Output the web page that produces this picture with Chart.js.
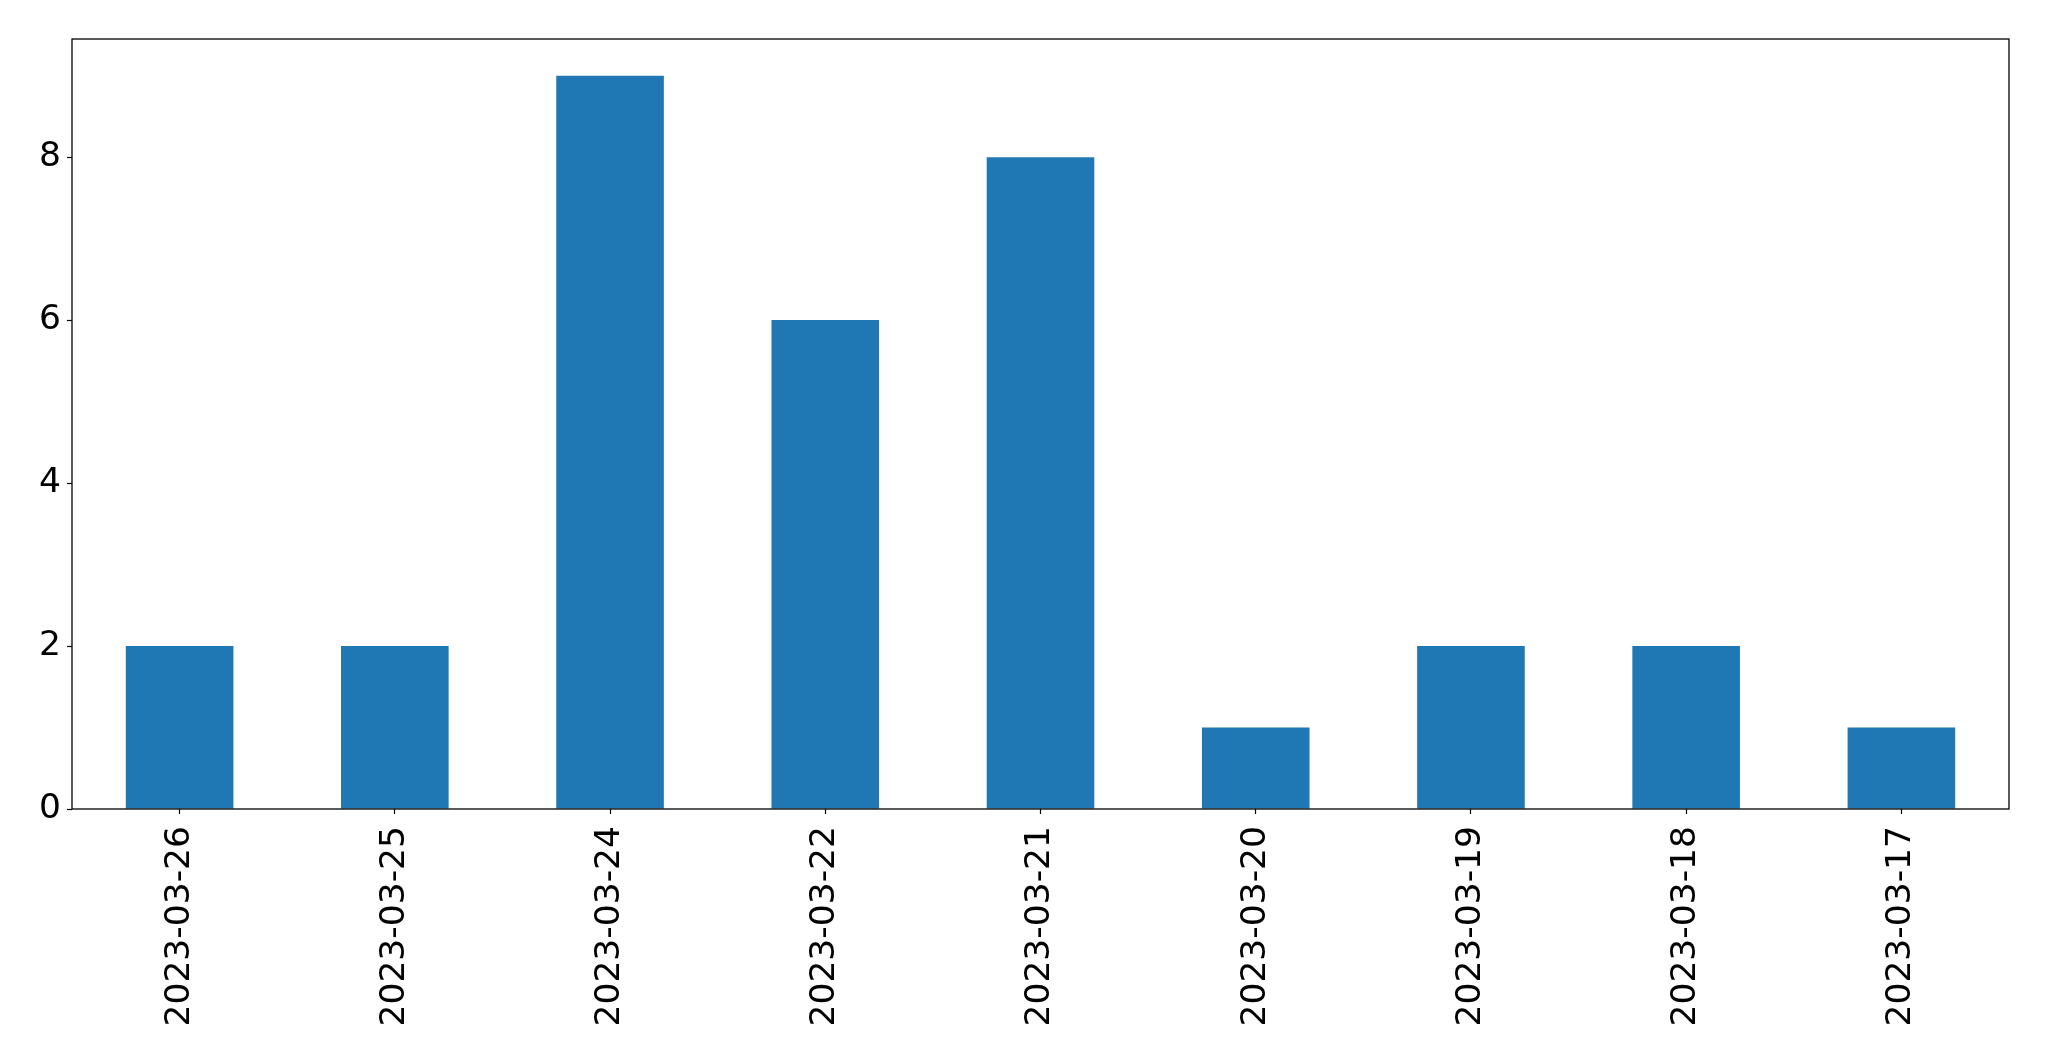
<!DOCTYPE html>
<html>
<head>
<meta charset="utf-8">
<script src="https://cdn.jsdelivr.net/npm/chart.js@4/dist/chart.umd.min.js"></script>
<style>
  html, body { margin: 0; padding: 0; background: #fff; }
</style>
</head>
<body>
<canvas id="myChart" width="2049" height="1061"></canvas>
<script>
const dates = ["2023-03-26", "2023-03-25", "2023-03-24", "2023-03-22", "2023-03-21",
  "2023-03-20", "2023-03-19", "2023-03-18", "2023-03-17"];
const counts = [2, 2, 9, 6, 8, 1, 2, 2, 1];
const yTicks = [0, 2, 4, 6, 8];

// box round the plot area, like matplotlib's spines
const frame = {
  id: "frame",
  afterDraw(chart) {
    const { ctx, chartArea: a } = chart;
    ctx.save();
    ctx.strokeStyle = "#000";
    ctx.lineWidth = 1.3;
    ctx.strokeRect(a.left, a.top, a.right - a.left, a.bottom - a.top);
    ctx.restore();
  },
};

const config = {
  type: "bar",
  data: {
    labels: dates,
    datasets: [
      {
        data: counts,
        backgroundColor: "#1f77b4",
        categoryPercentage: 1,
        barPercentage: 0.5,
      },
    ],
  },
  options: {
    responsive: false,
    animation: false,
    layout: { padding: { top: 39, right: 40, left: 0, bottom: 0 } },
    scales: {
      x: {
        grid: { display: true, offset: false, drawOnChartArea: false, color: "#000", tickLength: 5, tickWidth: 1.2 },
        border: { display: false },
        ticks: {
          minRotation: 90,
          maxRotation: 90,
          padding: 12,
          color: "#000",
          font: { family: "DejaVu Sans", size: 34.5 },
        },
        afterFit(scale) { scale.height = 252; },
      },
      y: {
        min: 0,
        max: 9.45,
        grid: { display: true, drawOnChartArea: false, color: "#000", tickLength: 5, tickWidth: 1.2 },
        border: { display: false },
        ticks: {
          padding: 6,
          color: "#000",
          font: { family: "DejaVu Sans", size: 34.5 },
        },
        afterBuildTicks(scale) {
          scale.ticks = yTicks.map((v) => ({ value: v }));
        },
        afterFit(scale) { scale.width = 72; },
      },
    },
    plugins: {
      legend: { display: false },
      tooltip: { enabled: false },
    },
  },
  plugins: [frame],
};

const myChart = new Chart(document.getElementById("myChart").getContext("2d"), config);
</script>
</body>
</html>
